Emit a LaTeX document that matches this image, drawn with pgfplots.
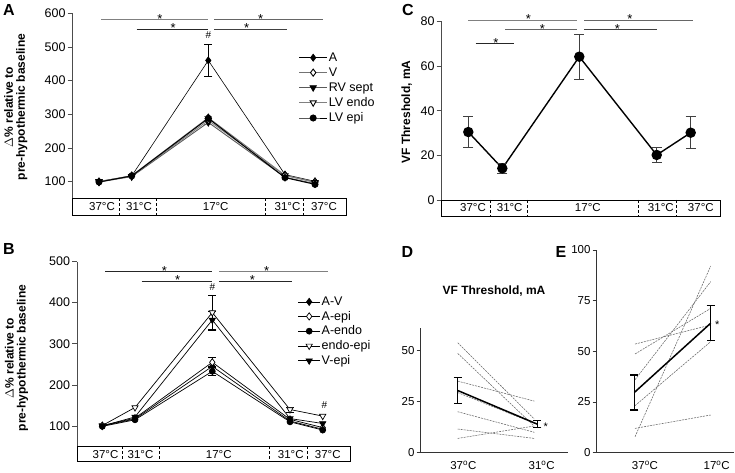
\documentclass[border=0pt]{standalone}
\usepackage{pgfplots}
\pgfplotsset{compat=1.18}
\usepackage{fontspec}
\setmainfont{Liberation Sans}
\tikzset{
 fd/.style={mark=diamond*, mark size=3.6pt, mark options={solid, fill=black, draw=black}},
 od/.style={mark=diamond*, mark size=3.6pt, mark options={solid, fill=white, draw=black}},
 ft/.style={mark=triangle*, mark size=3.6pt, mark options={solid, fill=black, draw=black, rotate=180}},
 ot/.style={mark=triangle*, mark size=3.6pt, mark options={solid, fill=white, draw=black, rotate=180}},
 fc/.style={mark=*, mark size=3pt, mark options={solid, fill=black, draw=black}},
 indiv/.style={black!60, line width=0.55pt, dash pattern=on 2pt off 1pt},
}
\pgfplotsset{
 panelabc/.style={scale only axis, clip=false, anchor=south west, axis x line=none, axis y line*=left,
   y axis line style={black!70, line width=0.7pt}, ytick style={black!70, line width=0.7pt},
   tick align=outside, major tick length=5pt, xtick=\empty,
   yticklabel style={font=\fontsize{12.5}{12.5}\selectfont, inner sep=2pt},
   /pgf/number format/assume math mode=true, xmin=0},
 paneDE/.style={scale only axis, clip=false, anchor=south west, axis lines*=left,
   axis line style={black!80, line width=0.7pt}, ytick style={black!80, line width=0.7pt},
   xtick style={draw=none}, tick align=outside, major tick length=4pt,
   ticklabel style={font=\fontsize{11.5}{11.5}\selectfont, inner sep=2pt},
   xticklabel style={yshift=-2pt},
   /pgf/number format/assume math mode=true, xmin=0, ymin=0},
 eb/.style={forget plot, only marks, mark=none, color=#1, error bars/.cd, y dir=both, y explicit,
   error bar style={line width=0.7pt, color=#1}, error mark options={rotate=90, mark size=4pt, line width=0.7pt, color=#1}},
}
\newcommand{\sig}[2]{\node[font=\fontsize{13}{13}\selectfont, anchor=base, yshift=-3.8pt, inner sep=0pt] at (axis cs:#1,#2) {*};}
\newcommand{\hsh}[2]{\node[font=\fontsize{10}{10}\selectfont, inner sep=0pt] at (axis cs:#1,#2) {\#};}
\newcommand{\sep}[3]{\draw[densely dashed, line width=0.5pt] (axis cs:#1,#2) -- ([yshift=-#3]axis cs:#1,#2);}
\newcommand{\tlab}[4]{\node[font=\fontsize{11.5}{11.5}\selectfont] at ([yshift=-#3]axis cs:#1,#2) {#4};}
\begin{document}
\begin{tikzpicture}
\useasboundingbox (0pt,0pt) rectangle (735pt,473pt);

% ---------------- Panel A ----------------
\begin{axis}[panelabc, at={(72.7pt,274.5pt)}, width=274pt, height=185.2pt, xmax=274, ymin=50, ymax=600,
  ytick={100,200,...,600},
  legend style={draw=none, fill=none, at={(0.824,0.795)}, anchor=north west, inner sep=0pt,
    font=\fontsize{12.5}{12.5}\selectfont, row sep=2.4pt, nodes={inner sep=1.2pt}},
  legend cell align=left,
  legend image code/.code={\draw[mark repeat=2,mark phase=2,#1] plot coordinates {(0pt,0pt) (14pt,0pt) (28pt,0pt)};}]
\addplot[eb=black] coordinates {(135.6,460) +- (0,48)};
\addplot[eb=black!45] coordinates {(135.6,283) +- (0,12)};
\addplot[black, line width=0.6pt, fd] coordinates {(26.3,100) (59,117) (135.6,460) (212.3,121) (242.3,101)};
\addplot[black!55, line width=0.9pt, od] coordinates {(26.3,100) (59,118) (135.6,290) (212.3,119) (242.3,99)};
\addplot[black!65, line width=0.9pt, ft] coordinates {(26.3,99) (59,115) (135.6,276) (212.3,113) (242.3,94)};
\addplot[black!50, line width=0.9pt, ot] coordinates {(26.3,101) (59,116) (135.6,282) (212.3,118) (242.3,98)};
\addplot[black, line width=1pt, fc] coordinates {(26.3,99) (59,117) (135.6,288) (212.3,112) (242.3,92)};
\legend{A, V, RV sept, LV endo, LV epi}
\draw[black!50, line width=0.8pt] (axis cs:28.3,582) -- (axis cs:135.6,582);
\draw[black!85, line width=0.8pt] (axis cs:64,553.4) -- (axis cs:135.6,553.4);
\draw[black!60, line width=0.8pt] (axis cs:141.3,582) -- (axis cs:250,582);
\draw[black!75, line width=0.8pt] (axis cs:141.3,553.4) -- (axis cs:214,553.4);
\sig{87.3}{582} \sig{100.5}{553.4} \sig{188}{582} \sig{174}{553.4}
\hsh{135.6}{535.6}
\draw[line width=0.8pt] (axis cs:0,50) rectangle ([yshift=-16.5pt]axis cs:274,50);
\sep{46.3}{50}{16.5pt} \sep{83.3}{50}{16.5pt} \sep{193}{50}{16.5pt} \sep{230.6}{50}{16.5pt}
\tlab{29.3}{50}{8.25pt}{37°C} \tlab{66.3}{50}{8.25pt}{31°C} \tlab{143}{50}{8.25pt}{17°C}
\tlab{214.8}{50}{8.25pt}{31°C} \tlab{251.3}{50}{8.25pt}{37°C}
\end{axis}

% ---------------- Panel B ----------------
\begin{axis}[panelabc, at={(77.3pt,26.5pt)}, width=272.7pt, height=184.9pt, xmax=272.7, ymin=50, ymax=500,
  ytick={100,200,...,500},
  legend style={draw=none, fill=none, at={(0.808,0.817)}, anchor=north west, inner sep=0pt,
    font=\fontsize{12.5}{12.5}\selectfont, row sep=1.8pt, nodes={inner sep=1.2pt}},
  legend cell align=left,
  legend image code/.code={\draw[mark repeat=2,mark phase=2,#1] plot coordinates {(0pt,0pt) (11pt,0pt) (22pt,0pt)};}]
\addplot[eb=black] coordinates {(135,376) +- (0,43)};
\addplot[eb=black] coordinates {(135,358) +- (0,22)};
\addplot[eb=black] coordinates {(135,255) +- (0,11)};
\addplot[eb=black] coordinates {(135,233) +- (0,10)};
\addplot[eb=black] coordinates {(212.7,140) +- (0,6)};
\addplot[black, line width=0.7pt, fd] coordinates {(25,100) (57.7,117) (135,245) (212.7,112) (245.4,92)};
\addplot[black, line width=0.7pt, od] coordinates {(25,101) (57.7,119) (135,255) (212.7,116) (245.4,96)};
\addplot[black, line width=0.7pt, fc] coordinates {(25,99) (57.7,115) (135,233) (212.7,110) (245.4,90)};
\addplot[black, line width=0.7pt, ot] coordinates {(25,101) (57.7,145) (135,376) (212.7,140) (245.4,124)};
\addplot[black, line width=0.7pt, ft] coordinates {(25,100) (57.7,122) (135,358) (212.7,118) (245.4,106)};
\legend{A-V, A-epi, A-endo, endo-epi, V-epi}
\draw[black!85, line width=0.8pt] (axis cs:27.7,475.6) -- (axis cs:135,475.6);
\draw[black!85, line width=0.8pt] (axis cs:64.4,453) -- (axis cs:135,453);
\draw[black!50, line width=0.8pt] (axis cs:141.7,475.6) -- (axis cs:251,475.6);
\draw[black!85, line width=0.8pt] (axis cs:141.7,453) -- (axis cs:215,453);
\sig{87}{475.6} \sig{100.4}{453} \sig{189.4}{475.6} \sig{175}{453}
\hsh{135}{437.6} \hsh{247}{151}
\draw[line width=0.8pt] (axis cs:0,50) rectangle ([yshift=-15.2pt]axis cs:272.7,50);
\sep{45}{50}{15.2pt} \sep{82}{50}{15.2pt} \sep{192}{50}{15.2pt} \sep{230.4}{50}{15.2pt}
\tlab{28.2}{50}{7.6pt}{37°C} \tlab{63.2}{50}{7.6pt}{31°C} \tlab{141.5}{50}{7.6pt}{17°C}
\tlab{213.5}{50}{7.6pt}{31°C} \tlab{250.5}{50}{7.6pt}{37°C}
\end{axis}

% ---------------- Panel C ----------------
\begin{axis}[panelabc, at={(441.7pt,273pt)}, width=278.3pt, height=178.3pt, xmax=278.3, ymin=0, ymax=80,
  ytick={0,20,...,80}]
\addplot[black, line width=1.4pt, mark=*, mark size=4.5pt, mark options={solid, fill=black},
  error bars/.cd, y dir=both, y explicit, error bar style={line width=0.8pt, black!75},
  error mark options={rotate=90, mark size=5pt, line width=0.8pt, black!75}]
  coordinates {(26.6,30.5) +- (0,6.8) (60.6,14.2) +- (0,2.2) (137.6,64.3) +- (0,10) (215,20.2) +- (0,3.5) (249,30.2) +- (0,7.2)};
\draw[black!50, line width=0.8pt] (axis cs:26.6,80.75) -- (axis cs:135.6,80.75);
\draw[black!60, line width=0.8pt] (axis cs:63.3,76.6) -- (axis cs:135.6,76.6);
\draw[black!85, line width=0.8pt] (axis cs:34,70.3) -- (axis cs:72.6,70.3);
\draw[black!60, line width=0.8pt] (axis cs:142.3,80.75) -- (axis cs:251.6,80.75);
\draw[black!75, line width=0.8pt] (axis cs:142.3,76.6) -- (axis cs:215,76.6);
\sig{86.6}{80.75} \sig{100.6}{76.6} \sig{54.3}{70.3} \sig{188.3}{80.75} \sig{175.6}{76.6}
\draw[line width=0.8pt] (axis cs:0,0) rectangle ([yshift=-16pt]axis cs:278.3,0);
\sep{49}{0}{16pt} \sep{85.6}{0}{16pt} \sep{196.6}{0}{16pt} \sep{235}{0}{16pt}
\tlab{31.3}{0}{8pt}{37°C} \tlab{68}{0}{8pt}{31°C} \tlab{146.1}{0}{8pt}{17°C}
\tlab{219.1}{0}{8pt}{31°C} \tlab{259.1}{0}{8pt}{37°C}
\end{axis}

% ---------------- Panel D ----------------
\begin{axis}[paneDE, at={(420.7pt,20.3pt)}, width=147pt, height=124.4pt, xmax=147, ymax=61,
  ytick={0,25,50}, xtick={42.6,121}, xticklabels={37\textsuperscript{o}C, 31\textsuperscript{o}C}]
\addplot[indiv] coordinates {(37,53.9) (113.6,16.5)};
\addplot[indiv] coordinates {(37,48.7) (113.6,13)};
\addplot[indiv] coordinates {(37,35.1) (113.6,25.3)};
\addplot[indiv] coordinates {(37,29.5) (113.6,14.4)};
\addplot[indiv] coordinates {(37,20.1) (113.6,10)};
\addplot[indiv] coordinates {(37,11.6) (113.6,7)};
\addplot[indiv] coordinates {(37,7) (113.6,13.1)};
\addplot[black, line width=1.5pt, mark=none, error bars/.cd, y dir=both, y explicit,
  error bar style={line width=1.3pt}, error mark options={rotate=90, mark size=4pt, line width=1.3pt}]
  coordinates {(37,30.5) +- (0,6.5) (116.6,14) +- (0,1.8)};
\node[font=\fontsize{11}{11}\selectfont, anchor=base, inner sep=0pt] at ([xshift=4pt,yshift=-6pt]axis cs:121,14) {*};
\end{axis}

% ---------------- Panel E ----------------
\begin{axis}[paneDE, at={(596.7pt,20.3pt)}, width=137pt, height=202.7pt, xmax=137, ymax=100,
  ytick={0,25,...,100}, xtick={48.3,120}, xticklabels={37\textsuperscript{o}C, 17\textsuperscript{o}C}]
\addplot[indiv] coordinates {(38.3,53.6) (114,63)};
\addplot[indiv] coordinates {(38.3,48.7) (114,71.2)};
\addplot[indiv] coordinates {(38.3,36) (114,84.4)};
\addplot[indiv] coordinates {(38.3,23.2) (114,54.8)};
\addplot[indiv] coordinates {(38.3,12) (114,18.6)};
\addplot[indiv] coordinates {(38.3,7.9) (114,92.1)};
\addplot[black, line width=1.5pt, mark=none, error bars/.cd, y dir=both, y explicit,
  error bar style={line width=1.3pt}, error mark options={rotate=90, mark size=4pt, line width=1.3pt}]
  coordinates {(37.6,29.7) +- (0,8.6) (114,63.9) +- (0,8.6)};
\node[font=\fontsize{11}{11}\selectfont, anchor=base, inner sep=0pt] at ([yshift=-6pt]axis cs:120.5,64) {*};
\end{axis}

% ---------------- labels ----------------
\node[font=\bfseries\fontsize{12}{12}\selectfont, rotate=90, align=center] at (15.8pt,366pt) {$\Delta$\% relative to\\pre-hypothermic baseline};
\node[font=\bfseries\fontsize{12}{12}\selectfont, rotate=90, align=center] at (16.5pt,115pt) {$\Delta$\% relative to\\pre-hypothermic baseline};
\node[font=\bfseries\fontsize{12}{12}\selectfont, rotate=90] at (406.7pt,361pt) {VF Threshold, mA};
\node[font=\bfseries\fontsize{12}{12}\selectfont] at (494pt,182.3pt) {VF Threshold, mA};
\node[font=\bfseries\fontsize{16}{16}\selectfont] at (9pt,463pt) {A};
\node[font=\bfseries\fontsize{16}{16}\selectfont] at (9pt,224pt) {B};
\node[font=\bfseries\fontsize{16}{16}\selectfont] at (408pt,463pt) {C};
\node[font=\bfseries\fontsize{16}{16}\selectfont] at (407.5pt,221.3pt) {D};
\node[font=\bfseries\fontsize{16}{16}\selectfont] at (561pt,221.3pt) {E};
\end{tikzpicture}
\end{document}
